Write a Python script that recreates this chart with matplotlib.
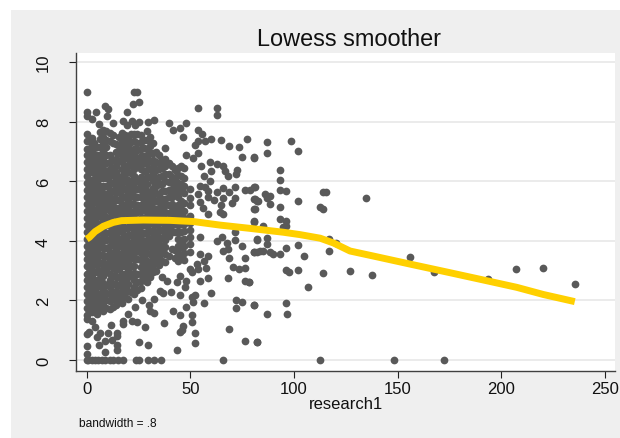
import matplotlib
matplotlib.use("Agg")
import matplotlib.pyplot as plt
from matplotlib.patches import Rectangle

plt.rcParams['font.family'] = ['Liberation Sans', 'DejaVu Sans']

# dense cloud: research1 value of each column and the scores read in that column
cloud_x = [0, 2.5, 5, 8, 11, 14, 17, 20, 23, 26, 29, 32, 35, 38, 41, 44, 47, 50]
cloud_y = [
 [1.52,1.74,1.98,2.2,2.44,2.68,2.9,3.14,3.38,3.6,3.84,4.08,4.3,4.54,4.78,5.0,5.24,5.48,5.7,5.94,6.18,6.4,6.64,6.88,7.1,7.34,7.58],
 [1.62,1.86,2.1,2.32,2.56,2.8,3.02,3.26,3.5,3.72,3.96,4.2,4.42,4.66,4.9,5.12,5.36,5.6,5.82,6.06,6.3,6.52,6.76,7.0,7.22,7.46],
 [1.55,1.78,2.0,2.24,2.48,2.7,2.94,3.18,3.4,3.64,3.88,4.1,4.34,4.58,4.8,5.04,5.28,5.5,5.74,5.98,6.2,6.44,6.68,6.9,7.14],
 [1.66,1.9,2.12,2.36,2.6,2.82,3.06,3.3,3.52,3.76,4.0,4.22,4.46,4.7,4.92,5.16,5.4,5.62,5.86,6.1,6.32,6.56,6.8,7.02,7.26,7.5,7.74],
 [1.72,1.98,2.2,2.44,2.68,2.9,3.14,3.38,3.6,3.84,4.08,4.3,4.54,4.78,5.0,5.24,5.48,5.7,5.94,6.18,6.4,6.64,6.88,7.34,7.62],
 [1.84,2.08,2.32,2.56,2.8,3.02,3.26,3.5,3.72,3.96,4.2,4.42,4.66,4.9,5.12,5.36,5.6,5.82,6.06,6.3,6.52,6.76,7.0,7.24],
 [1.9,2.2,2.44,2.68,2.9,3.14,3.38,3.6,3.84,4.08,4.3,4.54,4.78,5.0,5.24,5.48,5.7,5.94,6.18,6.4,6.64,6.88,7.1,7.34,7.64],
 [2.06,2.32,2.56,2.8,3.02,3.26,3.5,3.72,3.96,4.2,4.42,4.66,4.9,5.12,5.36,5.6,5.82,6.06,6.3,6.52,6.76,7.0,7.22,7.46],
 [2.2,2.44,2.68,2.92,3.14,3.38,3.6,3.84,4.08,4.3,4.54,4.78,5.0,5.24,5.48,5.7,5.94,6.18,6.4,6.64,6.88,7.1,7.36,7.6],
 [2.42,2.66,2.9,3.12,3.36,3.6,3.82,4.06,4.3,4.52,4.76,5.0,5.22,5.46,5.7,5.92,6.16,6.4,6.62,6.86,7.1,7.32,7.54],
 [2.62,2.86,3.1,3.34,3.58,3.8,4.04,4.28,4.5,4.74,4.98,5.2,5.44,5.68,5.9,6.14,6.38,6.6,6.84,7.08,7.4,7.68],
 [2.94,3.2,3.44,3.68,3.9,4.14,4.38,4.6,4.84,5.08,5.3,5.54,5.78,6.0,6.24,6.48,6.7,6.94,7.28],
 [3.2,3.44,3.66,3.9,4.14,4.36,4.6,4.84,5.06,5.3,5.54,5.92,6.16,6.4,6.62,6.9],
 [3.3,3.56,3.8,4.02,4.26,4.5,4.72,4.96,5.2,5.42,5.66,6.02,6.26,6.5,6.74,7.12],
 [3.72,4.3,4.54,4.76,5.0,5.24,5.46,5.7,5.94,6.16,6.5],
 [3.34,3.58,3.82,4.06,4.3,4.52,4.76,5.0,5.22,5.46,5.7,5.94,6.2,6.46],
 [3.36,3.6,3.84,4.08,4.32,4.56,4.78,5.02,5.26,5.62,5.86,6.12,6.44],
 [3.64,3.88,4.12,4.36,4.6,4.84,5.2,5.44,5.74],
]

# second set of columns lying between the first ones
between_x = [1.2, 3.7, 6.5, 9.5, 12.5, 15.5, 18.5, 21.5, 24.5, 27.5, 30.5, 33.5, 36.5, 39.5, 42.5, 45.5]
between_y = [
 [1.64,1.9,2.16,2.42,2.68,2.94,3.2,3.46,3.72,3.98,4.24,4.5,4.76,5.02,5.28,5.54,5.8,6.06,6.32,6.58,6.84,7.1,7.36],
 [1.66,1.92,2.18,2.44,2.7,2.96,3.22,3.48,3.74,4.0,4.26,4.52,4.78,5.04,5.3,5.56,5.82,6.08,6.34,6.6,6.86,7.12,7.3],
 [1.7,1.96,2.22,2.48,2.74,3.0,3.26,3.52,3.78,4.04,4.3,4.56,4.82,5.08,5.34,5.6,5.86,6.12,6.38,6.64,6.9,7.16,7.42,7.66],
 [1.74,2.0,2.26,2.52,2.98,3.24,3.5,3.76,4.02,4.28,4.54,4.8,5.06,5.32,5.58,5.84,6.1,6.36,6.62,6.88,7.14,7.4,7.7],
 [1.78,2.04,2.3,2.56,2.82,3.08,3.34,3.6,3.86,4.12,4.38,4.64,4.9,5.16,5.42,5.68,5.94,6.2,6.46,6.72,7.3,7.56],
 [2.0,2.26,2.52,2.78,3.04,3.3,3.56,3.82,4.08,4.34,4.6,4.86,5.12,5.38,5.64,5.9,6.16,6.68,6.94,7.2,7.5],
 [2.1,2.36,2.62,2.88,3.14,3.4,3.66,3.92,4.18,4.44,4.7,4.96,5.22,5.48,5.74,6.0,6.26,6.52,6.78,7.04,7.3,7.56],
 [2.28,2.9,3.16,3.42,3.68,3.94,4.2,4.46,4.72,4.98,5.24,5.5,5.76,6.02,6.28,6.54,6.8,7.06,7.32,7.58],
 [2.36,2.62,2.88,3.4,3.66,3.92,4.18,4.44,4.7,4.96,5.22,5.48,5.74,6.0,6.52,6.78,7.04,7.3,7.6],
 [2.7,2.96,3.22,3.48,3.74,4.0,4.26,4.52,4.78,5.04,5.3,5.56,5.82,6.08,6.34,6.6,6.86,7.12,7.38],
 [2.78,3.04,3.3,3.56,3.82,4.08,4.34,4.6,4.86,5.12,5.38,5.64,6.16,6.42,6.68,6.94,7.2,7.5],
 [3.0,3.26,3.52,3.78,4.04,4.3,4.56,4.82,5.08,5.34,5.6,5.86,6.12,6.38,6.64,6.98],
 [3.32,3.58,3.84,4.1,4.36,4.62,4.88,5.14,5.4,5.66,5.92,6.18,6.44,6.7],
 [3.48,4.16,4.42,4.68,4.94,5.2,5.46,5.72,5.98,6.24,6.6],
 [3.42,3.7,4.3,4.56,4.82,5.08,5.6,5.86,6.12,6.38],
 [3.52,3.78,4.04,4.3,4.56,4.82,5.08,5.34,5.66,5.92,6.18,6.5],
]

# separate points read individually
research1 = [
 0,22.8,24.3,22.2,25.4,9,10.4,4.3,0,0,9.6,19.4,53.8,63,63,2.4,6.1,12.8,17.7,21.7,25.4,19.4,23.4,29.7,32.5,
 39.9,47.8,41.8,45,46.3,53.8,55.5,52.2,53.8,57,59.8,64.6,77.2,68.8,73.5,74.8,80.9,47.8,53.8,51.1,55.1,
 59.5,62.7,65.9,59.8,66.7,68.3,72.4,72,76.4,78.8,81.2,71.5,68.8,65.6,62.7,81.2,82.8,81,71.5,69.9,65.6,
 64.6,64.3,65.9,58.4,61.4,56.6,59.5,54.7,57,58.7,53.8,54.7,56.2,58.7,
 0,0.8,2.4,4,5.6,7.2,8.8,11.2,12.8,15.2,17.7,23.8,25.4,29.7,32.6,35.8,65.6,
 0,8.8,14.8,14.8,0,6.1,8.8,12,25.4,29.7,43.4,52.2,76.3,82.3,
 0,1.3,4.8,6.4,10.4,14.8,14.8,45.8,46.6,45,52.2,68.8,28.1,11.7,
 0,2.4,4,17.7,17.7,21.7,24.1,37.4,50.6,50.6,45,41.8,47.7,32.6,30.2,30.5,20,23.3,26.5,32.6,51.4,52.2,50.6,
 56.7,59.8,71.8,71.8,74.7,80.8,45,40.6,37,35.3,47.4,43.4,47.9,54.6,58.7,68.3,76.3,78.4,38.9,36.1,45,
 49.8,53,50.6,54.6,58.7,56.6,57.5,53.8,65.6,68.3,62.7,65.1,67.5,71.5,74.7,68.8,70.4,73.5,76.5,76.3,80.8,
 82.3,82.3,80.8,71.5,54.6,
 86.8,98.7,102.1,86.8,80.9,93,93,93,96,80.9,86,88.4,86.8,80.7,82.3,102.1,88.4,93,80.9,114.2,115.5,134.9,
 112.6,113.9,93,96,96,94.9,80.9,85.2,86.8,82.3,86.8,102.1,96,117.1,120.3,117.1,104.8,93,88.4,89.7,85.2,
 83.6,80.9,156,167.6,96,97.6,102.1,113.9,127.2,137.8,106.5,78.5,80.9,96,86.8,96.5,82.3,112.6,148.3,172.5,
 193.7,207,220.2,235.4,
]
score = [
 9.01,9.0,9.0,8.6,8.67,8.54,8.43,8.34,8.32,8.2,8.2,8.34,8.45,8.45,8.24,8.09,7.93,7.95,8.04,8.04,8.0,7.9,7.9,7.98,8.06,
 7.95,7.95,7.73,7.78,7.48,7.73,7.59,7.22,7.37,7.37,7.42,7.39,7.42,7.18,7.15,6.81,6.81,6.89,6.94,6.77,6.5,
 6.66,6.58,6.53,6.36,6.36,6.19,6.38,6.25,5.72,5.72,5.8,5.82,5.65,5.77,5.65,5.41,5.35,5.07,5.43,5.26,5.43,
 5.22,4.96,4.9,5.46,5.38,6.17,6.02,5.85,5.8,5.69,5.58,5.3,5.1,4.9,
 0,0,0,0,0,0,0,0,0,0,0,0,0,0,0,0,0,
 .2,.28,.5,.35,.48,.5,.65,.68,.6,.51,.35,.57,.65,.6,
 .87,.95,.76,.9,.9,.9,.8,1.0,1.15,.95,.9,1.04,1.1,1.17,
 1.38,1.32,1.1,1.2,1.32,1.32,1.29,1.24,1.26,1.51,1.51,1.66,1.79,1.57,1.85,1.66,1.54,1.77,2.0,2.05,1.94,2.18,2.1,
 1.91,2.25,2.0,1.75,1.96,1.86,2.18,2.3,2.25,2.33,2.46,2.61,2.66,2.66,2.74,2.75,2.66,2.63,2.66,2.78,2.83,
 3.06,3.22,2.94,3.56,3.48,3.34,3.09,3.06,3.65,3.73,4.01,4.12,3.93,4.04,3.82,3.41,3.11,3.06,3.08,3.41,3.62,
 3.64,4.06,4.65,4.31,4.12,
 7.33,7.34,7.03,6.95,6.8,6.39,6.03,5.72,5.68,5.8,5.58,5.52,5.43,5.41,5.35,5.33,5.23,5.13,5.07,5.65,5.63,5.44,
 5.13,5.06,4.73,4.68,4.49,4.45,4.66,4.51,4.1,4.03,3.9,3.86,3.76,4.06,3.92,3.66,3.5,3.55,3.62,3.55,3.67,
 3.65,3.62,3.45,2.94,3.03,2.97,3.03,2.93,2.98,2.85,2.44,2.63,1.86,1.93,1.53,1.53,.59,0,0,0,
 2.72,3.07,3.09,2.55,
]

# lowess curve
smooth_x = [0,1.3,4,8,12.8,16.8,27.3,40,51.4,64.3,78.8,94.9,102.9,112.6,119,127,138.3,156,175.3,193.7,207.4,220.2,235.4]
smooth_y = [4.06,4.12,4.31,4.49,4.62,4.68,4.7,4.69,4.65,4.53,4.42,4.29,4.21,4.09,3.93,3.66,3.49,3.22,2.93,2.65,2.44,2.2,1.96]

x_ticks = [0, 50, 100, 150, 200, 250]
y_ticks = [0, 2, 4, 6, 8, 10]

W, H = 620, 439
fig = plt.figure(figsize=(W / 100, H / 100), dpi=100, facecolor='white')
fig.add_artist(Rectangle((11 / W, 0), (W - 11) / W, (H - 11) / H, transform=fig.transFigure,
                         facecolor='#EFEFEF', edgecolor='none', zorder=-5))
ax = fig.add_axes([76 / W, 1 - 372 / H, (615 - 76) / W, (372 - 54) / H], facecolor='white')
ax.set_xlim(-5.16, 254.8)
ax.set_ylim(-0.37, 10.31)

ax.grid(axis='y', color='#E6E6E6', lw=1.1, zorder=0)
ax.set_axisbelow(True)
for x, ys in list(zip(cloud_x, cloud_y)) + list(zip(between_x, between_y)):
    ax.scatter([x] * len(ys), ys, s=31, color='#595959', linewidths=0, zorder=2, clip_on=False)
ax.scatter(research1, score, s=31, color='#595959', linewidths=0, zorder=2, clip_on=False)
ax.plot(smooth_x, smooth_y, color='#FFD000', lw=5.0, solid_capstyle='butt', solid_joinstyle='round', zorder=3)

for s in ['top', 'right']:
    ax.spines[s].set_visible(False)
for s in ['left', 'bottom']:
    ax.spines[s].set_color('#404040')
    ax.spines[s].set_linewidth(1.0)
ax.set_xticks(x_ticks)
ax.set_yticks(y_ticks)
ax.tick_params(axis='both', length=5, width=0.8, color='#202020', labelsize=12, labelcolor='#111111')
ax.tick_params(axis='x', pad=2)
ax.tick_params(axis='y', pad=13)
for t in ax.get_yticklabels():
    t.set_rotation(90)
    t.set_va('center')

ax.set_title('Lowess smoother', fontsize=16.9, color='#111111', pad=6, x=0.506)
fig.text(346.5 / W, 1 - 405 / H, 'research1', ha='center', va='center', fontsize=12, color='#111111')
fig.text(79 / W, 1 - 424 / H, 'bandwidth = .8', ha='left', va='center', fontsize=8.6, color='#111111')

fig.savefig('out.png', dpi=100, facecolor='white')
